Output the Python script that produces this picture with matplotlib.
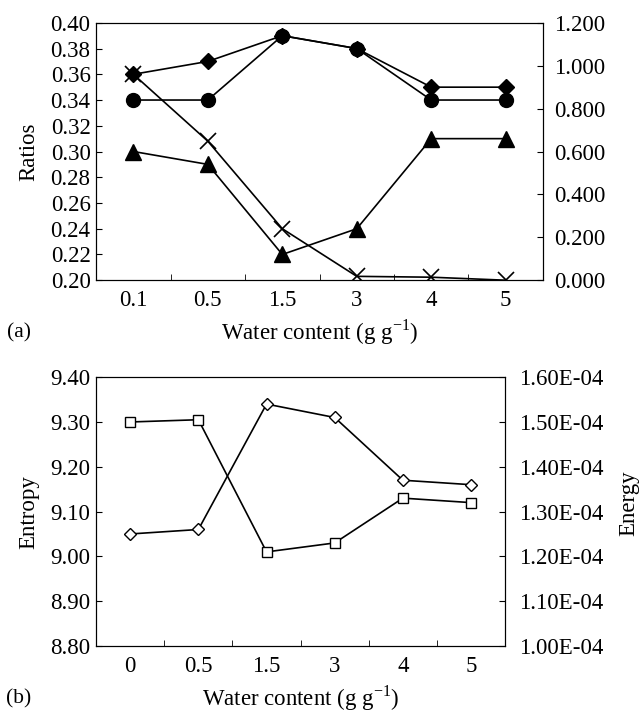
import numpy as np
import matplotlib.pyplot as plt
from matplotlib.ticker import FormatStrFormatter, FuncFormatter, FixedLocator

plt.rcParams['font.family'] = ['Liberation Serif', 'DejaVu Serif']
plt.rcParams['mathtext.fontset'] = 'custom'
plt.rcParams['mathtext.rm'] = 'Liberation Serif'

# panel (a)
water_a = ['0.1', '0.5', '1.5', '3', '4', '5']
ratio_diamond = [0.36, 0.37, 0.39, 0.38, 0.35, 0.35]
ratio_circle = [0.34, 0.34, 0.39, 0.38, 0.34, 0.34]
ratio_triangle = [0.30, 0.29, 0.22, 0.24, 0.31, 0.31]
right_cross = [0.960, 0.648, 0.240, 0.018, 0.014, 0.000]

# panel (b)
water_b = ['0', '0.5', '1.5', '3', '4', '5']
entropy = [9.30, 9.305, 9.01, 9.03, 9.13, 9.12]
energy = [1.25e-4, 1.26e-4, 1.54e-4, 1.51e-4, 1.37e-4, 1.36e-4]

FS = 16.5
xlabel = 'Water content (g g$^{\\mathregular{-1}}$)'

fig = plt.figure(figsize=(6.41, 7.13), dpi=100)


def style_x(axis, labels):
    pos = np.arange(len(labels))
    axis.set_xlim(-0.5, len(labels) - 0.5)
    axis.xaxis.set_major_locator(FixedLocator(pos))
    axis.set_xticklabels(labels)
    axis.xaxis.set_minor_locator(FixedLocator(pos[:-1] + 0.5))
    axis.tick_params(axis='x', which='major', length=0, labelsize=FS, pad=7)
    axis.tick_params(axis='x', which='minor', direction='in', length=4)
    axis.set_xlabel(xlabel, fontsize=FS, labelpad=5)


# ---- (a)
ax = fig.add_axes([0.150, 0.607, 0.697, 0.361])
x = np.arange(len(water_a))
ax.plot(x, ratio_diamond, 'k-', marker='D', ms=8, lw=1.2)
ax.plot(x, ratio_circle, 'k-', marker='o', ms=10, lw=1.2)
ax.plot(x, ratio_triangle, 'k-', marker='^', ms=11, lw=1.2)
ax.set_ylim(0.20, 0.40)
ax.set_yticks(np.arange(0.20, 0.401, 0.02))
ax.yaxis.set_major_formatter(FormatStrFormatter('%.2f'))
ax.set_ylabel('Ratios', fontsize=FS, labelpad=8)
ax.tick_params(axis='y', direction='in', length=4, labelsize=FS, pad=4)
style_x(ax, water_a)

ax2 = ax.twinx()
ax2.plot(x, right_cross, 'k-', marker='x', ms=11, mew=1.2, lw=1.2)
ax2.set_ylim(0, 1.2)
ax2.set_yticks(np.arange(0, 1.201, 0.2))
ax2.yaxis.set_major_formatter(FormatStrFormatter('%.3f'))
ax2.tick_params(axis='y', direction='in', length=4, labelsize=FS, pad=8)
fig.text(19 / 641, 1 - 333 / 713, '(a)', fontsize=FS - 1, ha='center', va='center')

# ---- (b)
bx = fig.add_axes([0.150, 0.094, 0.638, 0.377])
x = np.arange(len(water_b))
bx.plot(x, entropy, 'k-', marker='s', ms=7, mfc='white', mew=1.0, lw=1.2)
bx.set_ylim(8.80, 9.40)
bx.set_yticks(np.arange(8.80, 9.401, 0.10))
bx.yaxis.set_major_formatter(FormatStrFormatter('%.2f'))
bx.set_ylabel('Entropy', fontsize=FS, labelpad=8)
bx.tick_params(axis='y', direction='in', length=4, labelsize=FS, pad=4)
style_x(bx, water_b)

bx2 = bx.twinx()
bx2.plot(x, energy, 'k-', marker='D', ms=6, mfc='white', mew=1.0, lw=1.2)
bx2.set_ylim(1.0e-4, 1.6e-4)
bx2.set_yticks(np.linspace(1.0e-4, 1.6e-4, 7))
bx2.yaxis.set_major_formatter(FuncFormatter(lambda v, p: '{:.2E}'.format(v)))
bx2.yaxis.get_offset_text().set_visible(False)
bx2.tick_params(axis='y', direction='in', length=4, labelsize=FS, pad=10)
fig.text(629 / 641, 1 - 503 / 713, 'Energy', fontsize=FS, rotation=90,
         ha='center', va='center')
fig.text(19 / 641, 1 - 699 / 713, '(b)', fontsize=FS - 1, ha='center', va='center')

fig.savefig('out.png', dpi=100)
